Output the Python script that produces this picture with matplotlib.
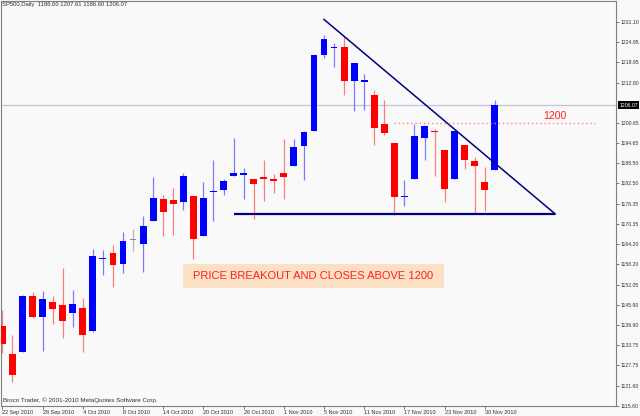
import matplotlib
matplotlib.use('Agg')
import matplotlib.pyplot as plt
import matplotlib.transforms as mtransforms
from matplotlib.patches import Rectangle
import pandas as pd

plt.rcParams['font.family'] = ['Liberation Sans', 'DejaVu Sans']

# ---------------- data ----------------
dates = ['2010-09-22', '2010-09-23', '2010-09-24', '2010-09-27', '2010-09-28', '2010-09-29', '2010-09-30',
         '2010-10-01', '2010-10-04', '2010-10-05', '2010-10-06', '2010-10-07', '2010-10-08', '2010-10-11',
         '2010-10-12', '2010-10-13', '2010-10-14', '2010-10-15', '2010-10-18', '2010-10-19', '2010-10-20',
         '2010-10-21', '2010-10-22', '2010-10-25', '2010-10-26', '2010-10-27', '2010-10-28', '2010-10-29',
         '2010-11-01', '2010-11-02', '2010-11-03', '2010-11-04', '2010-11-05', '2010-11-08', '2010-11-09',
         '2010-11-10', '2010-11-11', '2010-11-12', '2010-11-15', '2010-11-16', '2010-11-17', '2010-11-18',
         '2010-11-19', '2010-11-22', '2010-11-23', '2010-11-24', '2010-11-26', '2010-11-29', '2010-11-30',
         '2010-12-01']
opens = [1139.49, 1131.10, 1131.69, 1148.64, 1142.31, 1146.75, 1145.97, 1143.49, 1144.96, 1138.03,
         1159.81, 1161.57, 1158.36, 1165.32, 1164.28, 1171.32, 1177.82, 1177.47, 1176.83, 1178.64,
         1166.74, 1179.82, 1180.52, 1184.74, 1184.88, 1183.84, 1184.47, 1183.87, 1185.71, 1187.86,
         1193.79, 1198.34, 1221.20, 1223.24, 1223.59, 1213.14, 1213.04, 1209.07, 1200.44, 1194.79,
         1178.33, 1183.75, 1196.12, 1198.07, 1192.51, 1183.70, 1194.16, 1189.08, 1182.96, 1186.60]
highs = [1144.38, 1136.77, 1148.90, 1149.92, 1150.00, 1148.63, 1157.16, 1150.30, 1148.16, 1162.76,
         1162.33, 1163.87, 1167.73, 1168.68, 1172.58, 1184.38, 1178.89, 1181.20, 1185.53, 1178.64,
         1182.94, 1189.43, 1183.93, 1196.14, 1187.11, 1183.84, 1189.53, 1185.46, 1195.81, 1195.88,
         1198.30, 1221.25, 1227.08, 1224.57, 1226.84, 1218.75, 1215.45, 1210.50, 1207.43, 1194.79,
         1183.56, 1200.29, 1199.97, 1198.94, 1192.51, 1198.62, 1194.16, 1190.34, 1187.40, 1207.61]
lows = [1131.58, 1122.79, 1131.69, 1142.00, 1132.09, 1140.26, 1136.08, 1139.42, 1131.87, 1137.70,
        1154.85, 1151.41, 1155.58, 1162.02, 1155.71, 1171.32, 1166.71, 1167.12, 1174.55, 1159.71,
        1166.74, 1171.17, 1178.99, 1184.74, 1177.72, 1171.70, 1177.10, 1179.70, 1177.65, 1187.86,
        1183.56, 1198.34, 1220.29, 1217.55, 1208.94, 1204.33, 1204.49, 1194.08, 1197.15, 1173.00,
        1175.82, 1183.75, 1189.44, 1184.58, 1176.91, 1183.70, 1186.93, 1173.64, 1174.14, 1186.60]
closes = [1134.28, 1124.83, 1148.67, 1142.16, 1147.70, 1144.73, 1141.20, 1146.24, 1137.03, 1160.75,
          1159.97, 1158.06, 1165.15, 1165.32, 1169.77, 1178.10, 1173.81, 1176.19, 1184.71, 1165.90,
          1178.17, 1180.26, 1183.08, 1185.62, 1185.64, 1182.45, 1183.78, 1183.26, 1184.38, 1193.57,
          1197.96, 1221.06, 1225.85, 1223.25, 1213.40, 1218.71, 1213.54, 1199.21, 1197.75, 1178.34,
          1178.59, 1196.69, 1199.73, 1197.84, 1180.73, 1198.35, 1189.40, 1187.76, 1180.55, 1206.07]

y_tick_values = [1231.10, 1224.95, 1218.95, 1212.80, 1200.65, 1194.65, 1188.50, 1182.50, 1176.35,
                 1170.35, 1164.20, 1158.20, 1152.05, 1145.90, 1139.90, 1133.75, 1127.75, 1121.60, 1115.60]
x_tick_step = 4

support_level = 1173.3
support_from, support_to = 23, 55
trend_from = (32.0, 1231.8)
trend_to = (55.0, 1173.3)
breakout_level = 1200.6
breakout_from, breakout_to = 39, 59
level_label = "1200"
level_label_pos = (55.0, 1202.9)
note_text = "PRICE BREAKOUT AND CLOSES ABOVE 1200"
note_box = (17.97, 1151.12, 43.91, 1158.25)
footer_text = "Broco Trader, \u00a9 2001-2010 MetaQuotes Software Corp."
symbol = "SP500,Daily"

# ---------------- figure ----------------
W, H = 640, 416
fig = plt.figure(figsize=(6.4, 4.16), dpi=100)
bg = '#f9f9f9'
fig.patch.set_facecolor(bg)
ax_left, ax_top, ax_right, ax_bottom = 1, 1, 616, 405.8
ax = fig.add_axes([ax_left / W, 1 - ax_bottom / H, (ax_right - ax_left) / W, (ax_bottom - ax_top) / H])
ax.set_facecolor(bg)

idx = list(range(len(dates)))
body_bottom = [min(o, c) for o, c in zip(opens, closes)]
body_height = [max(abs(c - o), 0.35) for o, c in zip(opens, closes)]
body_col = []
wick_col = []
for o, c in zip(opens, closes):
    if c > o:
        body_col.append('#0000ff'); wick_col.append('#7a7aff')
    elif c < o:
        body_col.append('#ff0000'); wick_col.append('#ff7a7a')
    else:
        body_col.append('#8c8c8c'); wick_col.append('#b4b4b4')

last_price = closes[-1]
ax.axhline(last_price, color='#c4c4d6', lw=0.9, zorder=1)

ax.vlines(idx, lows, highs, colors=wick_col, linewidth=0.9, zorder=2)
ax.bar(idx, body_height, bottom=body_bottom, width=0.68, color=body_col, linewidth=0, zorder=3)

# overlays
ax.plot([support_from, support_to], [support_level, support_level], color='#000080', lw=1.6, zorder=4,
        solid_capstyle='butt')
ax.plot([trend_from[0], trend_to[0]], [trend_from[1], trend_to[1]], color='#000080', lw=1.1, zorder=4)
ax.plot([breakout_from, breakout_to], [breakout_level, breakout_level], color='#ff8080', lw=1.0,
        ls=(0, (1, 2)), zorder=4)
ax.text(level_label_pos[0], level_label_pos[1], level_label, color='#ff2020', fontsize=7.6,
        ha='center', va='center', zorder=5)
x0, y0, x1, y1 = note_box
ax.add_patch(Rectangle((x0, y0), x1 - x0, y1 - y0, facecolor='#fbe0c4', edgecolor='none', zorder=4))
ax.text((x0 + x1) / 2, (y0 + y1) / 2, note_text, color='#ff2020', fontsize=8,
        ha='center', va='center', zorder=5)

# limits
ax.set_xlim(-0.14, 61.05)
ax.set_ylim(1115.6, 1237.35)

# axes styling
for s in ax.spines.values():
    s.set_color('#808080')
    s.set_linewidth(0.8)
ax.yaxis.tick_right()
ax.set_yticks(y_tick_values)
ax.set_yticklabels([f"{v:.2f}" for v in y_tick_values])
ax.tick_params(axis='y', length=2.5, width=0.6, pad=0.8, labelsize=3.7, colors='#606060', labelcolor='#303030')

dts = pd.to_datetime(dates)
xt = idx[::x_tick_step]
ax.set_xticks(xt)
ax.set_xticklabels([f"{dts[i].day} {dts[i].strftime('%b %Y')}" for i in xt], ha='left')
ax.tick_params(axis='x', length=2, width=0.6, pad=1, labelsize=4, colors='#606060', labelcolor='#303030')

# current price label
trans = mtransforms.blended_transform_factory(ax.transAxes, ax.transData)
ax.text(1 + 3.2 / (ax_right - ax_left), last_price, f"{last_price:.2f}", transform=trans, fontsize=3.7,
        color='white', ha='left', va='center', clip_on=False, zorder=10,
        bbox=dict(boxstyle='square,pad=0.25', facecolor='black', edgecolor='none'))

# header and footer
header = f"{symbol}  {opens[-1]:.2f} {highs[-1]:.2f} {lows[-1]:.2f} {closes[-1]:.2f}"
fig.text(2 / W, 1 - 4.8 / H, header, fontsize=4.25, color='#303030', ha='left', va='center')
fig.text(3.3 / W, 1 - 400 / H, footer_text, fontsize=4.5, color='#303030', ha='left', va='center')

fig.savefig('out.png', dpi=100, facecolor=bg)
